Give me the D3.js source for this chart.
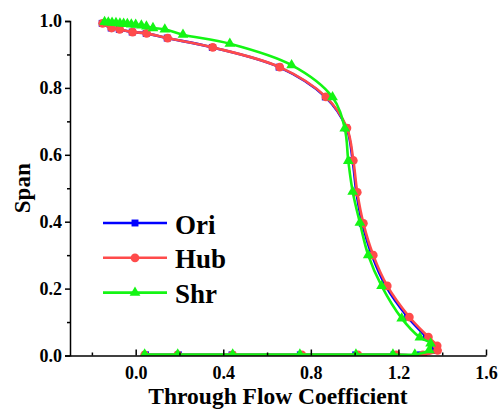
<!DOCTYPE html>
<html>
<head>
<meta charset="utf-8">
<script src="https://cdn.jsdelivr.net/npm/d3@7"></script>
<style>
  html, body { margin: 0; padding: 0; background: #fff; }
  svg text { font-family: "Liberation Serif", "Times New Roman", serif; font-weight: bold; fill: #000; }
</style>
</head>
<body>
<div id="chart"></div>
<script>
// --- data ---
const seriesNames = ['Ori', 'Hub', 'Shr'];

const oriX = [-0.153, -0.112, -0.075, -0.016, 0.048, 0.144, 0.350, 0.655, 0.866, 0.963, 0.991, 1.008, 1.035, 1.079, 1.142, 1.242, 1.328, 1.366, 1.368, 1.300, 1.180, 1.005, 0.752, 0.440, 0.195, 0.045];
const oriY = [0.993, 0.979, 0.975, 0.967, 0.963, 0.949, 0.921, 0.862, 0.773, 0.680, 0.583, 0.488, 0.395, 0.300, 0.208, 0.115, 0.055, 0.029, 0.015, 0.002, 0.002, 0.002, 0.002, 0.002, 0.002, 0.002];

const hubX = [-0.151, -0.110, -0.073, -0.014, 0.050, 0.146, 0.352, 0.658, 0.869, 0.965, 0.994, 1.012, 1.040, 1.085, 1.149, 1.250, 1.337, 1.377, 1.379, 1.312, 1.190, 1.015, 0.759, 0.443, 0.192, 0.041];
const hubY = [0.993, 0.979, 0.975, 0.967, 0.963, 0.949, 0.921, 0.862, 0.773, 0.680, 0.583, 0.488, 0.395, 0.300, 0.208, 0.115, 0.055, 0.029, 0.015, 0.002, 0.002, 0.002, 0.002, 0.002, 0.002, 0.002];

const shrX = [-0.142, -0.125, -0.108, -0.090, -0.072, -0.055, -0.038, -0.020, 0.000, 0.026, 0.049, 0.079, 0.133, 0.216, 0.430, 0.712, 0.899, 0.955, 0.971, 0.991, 1.024, 1.062, 1.123, 1.215, 1.298, 1.347, 1.341, 1.275, 1.175, 1.006, 0.750, 0.443, 0.192, 0.041];
const shrY = [0.997, 0.996, 0.995, 0.994, 0.993, 0.992, 0.991, 0.990, 0.989, 0.987, 0.984, 0.979, 0.975, 0.959, 0.932, 0.868, 0.772, 0.679, 0.582, 0.490, 0.397, 0.300, 0.208, 0.111, 0.054, 0.036, 0.016, 0.003, 0.003, 0.003, 0.003, 0.003, 0.003, 0.003];

const xMajorTicks = [0.0, 0.4, 0.8, 1.2, 1.6];
const xMinorTicks = [-0.2, 0.2, 0.6, 1.0, 1.4];
const yMajorTicks = [0.0, 0.2, 0.4, 0.6, 0.8, 1.0];
const yMinorTicks = [0.1, 0.3, 0.5, 0.7, 0.9];

const W = 499, H = 410;
const margin = { top: 21, right: 13, bottom: 54.5, left: 70 };
const serif = '"Liberation Serif", "Times New Roman", serif';

const svg = d3.select('#chart').append('svg')
  .attr('width', W).attr('height', H);

const x = d3.scaleLinear().domain([-0.3, 1.6]).range([margin.left, W - margin.right]);
const y = d3.scaleLinear().domain([0, 1]).range([H - margin.bottom, margin.top]);

const series = [
  { name: seriesNames[0], xs: oriX, ys: oriY, color: '#0000ff', symbol: d3.symbolSquare, size: 48 },
  { name: seriesNames[1], xs: hubX, ys: hubY, color: '#ff4b4b', symbol: d3.symbolCircle, size: 60 },
  { name: seriesNames[2], xs: shrX, ys: shrY, color: '#14f514', symbol: d3.symbolTriangle, size: 50 }
];

// clip so the markers sitting on y=0 are cut at the axis
svg.append('defs').append('clipPath').attr('id', 'plot-clip')
  .append('rect')
  .attr('x', margin.left).attr('y', 0)
  .attr('width', W - margin.left).attr('height', y(0) + 0.5);

const plotG = svg.append('g').attr('clip-path', 'url(#plot-clip)');

const line = d3.line()
  .x(d => x(d[0]))
  .y(d => y(d[1]))
  .curve(d3.curveCatmullRom.alpha(0.5));

series.forEach(s => {
  const pts = s.xs.map((v, i) => [v, s.ys[i]]);
  plotG.append('path')
    .datum(pts)
    .attr('d', line)
    .attr('fill', 'none')
    .attr('stroke', s.color)
    .attr('stroke-width', 2.6)
    .attr('stroke-linejoin', 'round');

  plotG.selectAll(null)
    .data(pts)
    .join('path')
    .attr('transform', d => `translate(${x(d[0])},${y(d[1])})`)
    .attr('d', d3.symbol().type(s.symbol).size(s.size))
    .attr('fill', s.color);
});

// axes
const fmt = d3.format('.1f');

const yAxis = svg.append('g')
  .attr('transform', `translate(${margin.left},0)`)
  .call(d3.axisLeft(y).tickValues(yMajorTicks).tickFormat(fmt).tickSize(5).tickPadding(3));
svg.append('g')
  .attr('transform', `translate(${margin.left},0)`)
  .call(d3.axisLeft(y).tickValues(yMinorTicks).tickSize(3))
  .call(g => g.select('.domain').remove())
  .call(g => g.selectAll('.tick text').remove());

const xAxis = svg.append('g')
  .attr('transform', `translate(0,${y(0)})`)
  .call(d3.axisBottom(x).tickValues(xMajorTicks).tickFormat(fmt).tickSizeInner(-6).tickSizeOuter(0).tickPadding(11));
svg.append('g')
  .attr('transform', `translate(0,${y(0)})`)
  .call(d3.axisBottom(x).tickValues(xMinorTicks).tickSizeInner(-3).tickSizeOuter(0))
  .call(g => g.select('.domain').remove())
  .call(g => g.selectAll('.tick text').remove());

svg.selectAll('.domain, .tick line')
  .attr('stroke', '#000')
  .attr('stroke-width', 1.5);

[yAxis, xAxis].forEach(a => {
  a.attr('font-family', serif).attr('font-size', 18).attr('font-weight', 'bold');
  a.selectAll('.tick text')
    .attr('font-family', serif)
    .attr('font-weight', 'bold')
    .attr('font-size', 18)
    .attr('fill', '#000');
});

// axis titles
svg.append('text')
  .attr('x', (margin.left + W - margin.right) / 2)
  .attr('y', 404)
  .attr('text-anchor', 'middle')
  .attr('font-size', 23.5)
  .text('Through Flow Coefficient');

svg.append('text')
  .attr('transform', `translate(30,${(y(0) + y(1)) / 2}) rotate(-90)`)
  .attr('text-anchor', 'middle')
  .attr('font-size', 23)
  .text('Span');

// legend
const legend = svg.append('g').attr('transform', 'translate(103,223)');
series.forEach((s, i) => {
  const lg = legend.append('g').attr('transform', `translate(0,${i * 34.8})`);
  lg.append('line')
    .attr('x1', 0).attr('x2', 64)
    .attr('stroke', s.color).attr('stroke-width', 2.6);
  lg.append('path')
    .attr('transform', 'translate(32,0)')
    .attr('d', d3.symbol().type(s.symbol).size(s.size))
    .attr('fill', s.color);
  lg.append('text')
    .attr('x', 72).attr('y', 10.5)
    .attr('font-size', 27)
    .text(s.name);
});
</script>
</body>
</html>
